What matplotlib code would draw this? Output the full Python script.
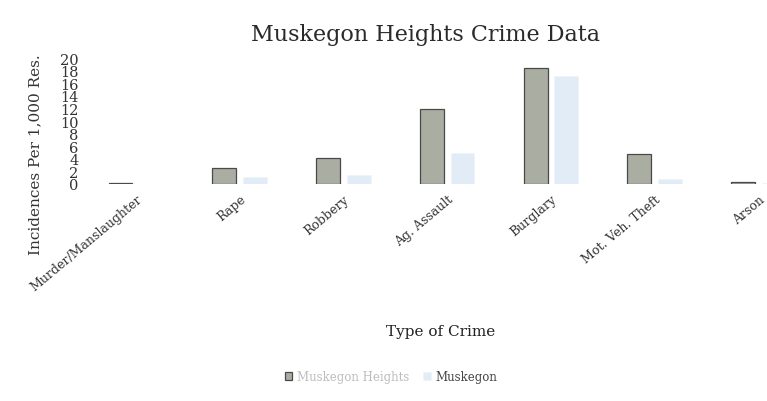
import numpy as np
import matplotlib
matplotlib.use("Agg")
import matplotlib.pyplot as plt

# incidences per 1,000 residents
categories = ["Murder/Manslaughter", "Rape", "Robbery", "Ag. Assault",
              "Burglary", "Mot. Veh. Theft", "Arson"]
heights_vals = [0.15, 2.5, 4.1, 11.9, 18.4, 4.8, 0.25]
muskegon_vals = [0.0, 1.1, 1.4, 4.9, 17.1, 0.8, 0.1]
y_ticks = [0, 2, 4, 6, 8, 10, 12, 14, 16, 18, 20]
series_names = ["Muskegon Heights", "Muskegon"]

SERIF = "DejaVu Serif"

fig = plt.figure(figsize=(7.67, 4.02), dpi=100)
ax = fig.add_axes([0.1095, 0.54, 0.947, 0.313])

x = np.arange(len(categories))
w = 0.23
off = 0.148
ax.bar(x - off, heights_vals, w, color="#a9ada2", edgecolor="#4a4a4a",
       linewidth=0.9, label=series_names[0])
ax.bar(x + off, muskegon_vals, w, color="#e2ecf7", edgecolor="#eef4fb",
       linewidth=0.5, label=series_names[1])

ax.set_xlim(-0.5, len(categories) - 0.5)
ax.set_ylim(0, 20)
ax.set_yticks(y_ticks)
ax.set_yticklabels([str(t) for t in y_ticks], family=SERIF, fontsize=10.5,
                   color="#333333")
ax.set_xticks(x)
ax.set_xticklabels(categories, family=SERIF, fontsize=9, color="#333333",
                   rotation=40, ha="right", rotation_mode="anchor")
ax.tick_params(length=0, pad=4)
ax.tick_params(axis="x", pad=6)
for s in ax.spines.values():
    s.set_visible(False)

fig.text(0.555, 0.912, "Muskegon Heights Crime Data", family=SERIF,
         fontsize=16, color="#2a2a2a", ha="center", va="center")
fig.text(0.046, 0.615, "Incidences Per 1,000 Res.", family=SERIF,
         fontsize=11, color="#333333", rotation=90, ha="center", va="center")
fig.text(0.574, 0.175, "Type of Crime", family=SERIF, fontsize=11,
         color="#222222", ha="center", va="center")

leg = fig.legend(loc="center", bbox_to_anchor=(0.51, 0.06), ncol=2,
                 frameon=False, prop={"family": SERIF, "size": 8.5},
                 handlelength=0.6, handleheight=0.6, handletextpad=0.4,
                 columnspacing=1.2)
for txt, c in zip(leg.get_texts(), ["#bdbdbd", "#444444"]):
    txt.set_color(c)

fig.savefig("out.png", dpi=100)
